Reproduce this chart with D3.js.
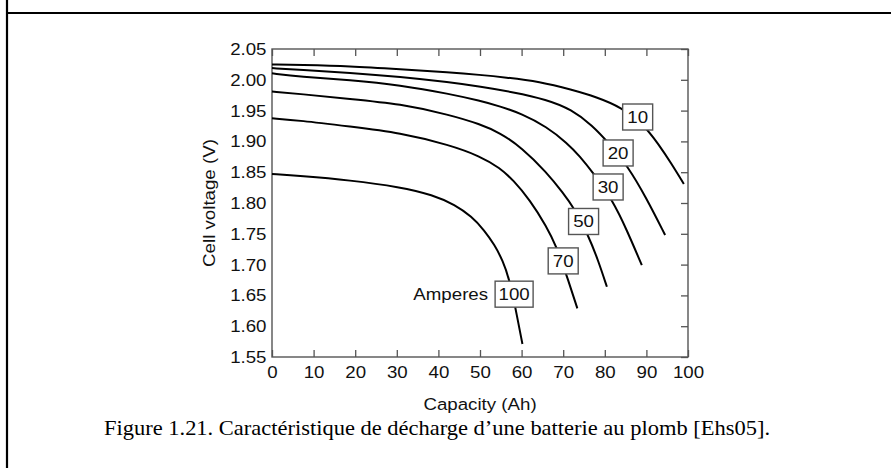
<!DOCTYPE html>
<html>
<head>
<meta charset="utf-8">
<script src="https://cdn.jsdelivr.net/npm/d3@7"></script>
<style>
    body { margin: 0; background: #fff; }
    svg { display: block; }
    .sans { font-family: "Liberation Sans", Arial, sans-serif; }
</style>
</head>
<body>
<div id="chart"></div>
<script>
// discharge curves: capacity (Ah) -> cell voltage (V)
const amp10 = [[0, 2.025], [6.7, 2.024], [18.75, 2.022], [30.8, 2.017], [42.8, 2.012], [50, 2.008], [56, 2.004], [64.4, 1.997], [72, 1.984], [78, 1.972], [84, 1.955], [89, 1.930], [93, 1.895], [96, 1.864], [99, 1.831]];
const amp20 = [[0, 2.019], [6.7, 2.016], [18.75, 2.0115], [30.8, 2.005], [42.8, 1.996], [50, 1.989], [58, 1.980], [66, 1.968], [72, 1.952], [77, 1.926], [81, 1.897], [85.6, 1.859], [90, 1.808], [94.5, 1.748]];
const amp30 = [[0, 2.0105], [6.7, 2.005], [18.75, 1.9997], [30.8, 1.9915], [42.8, 1.977], [50, 1.966], [54.8, 1.957], [60, 1.945], [66, 1.924], [71, 1.897], [74, 1.876], [77.2, 1.849], [81.9, 1.804], [85.3, 1.756], [88.9, 1.699]];
const amp50 = [[0, 1.981], [6.7, 1.977], [18.75, 1.969], [30.8, 1.961], [42.8, 1.943], [50, 1.928], [54.8, 1.914], [60, 1.890], [66, 1.850], [70, 1.816], [72.6, 1.792], [76, 1.748], [78.4, 1.707], [80.5, 1.664]];
const amp70 = [[0, 1.9375], [6.7, 1.934], [18.75, 1.924], [30.8, 1.914], [42.8, 1.894], [50, 1.876], [54.8, 1.857], [58, 1.837], [62, 1.805], [66, 1.762], [68.4, 1.729], [70.7, 1.685], [73.4, 1.629]];
const amp100 = [[0, 1.847], [6.7, 1.844], [18.75, 1.837], [30.8, 1.826], [38.7, 1.813], [44, 1.797], [48, 1.778], [51, 1.756], [53.5, 1.732], [55.5, 1.706], [57, 1.677], [58.4, 1.634], [60.2, 1.571]];

const seriesNames = ["10", "20", "30", "50", "70", "100"];
const seriesData = [amp10, amp20, amp30, amp50, amp70, amp100];
// where each current label sits (capacity, voltage)
const labelAt = [[87.9, 1.9396], [83.2, 1.8812], [80.8, 1.826], [74.9, 1.770], [70.0, 1.706], [58.2, 1.652]];

const xTicks = [0, 10, 20, 30, 40, 50, 60, 70, 80, 90, 100];
const yTicks = [1.55, 1.60, 1.65, 1.70, 1.75, 1.80, 1.85, 1.90, 1.95, 2.00, 2.05];

const W = 891, H = 468;
const stretch = 1.1; // the scanned lettering is a bit wide

const svg = d3.select("#chart").append("svg")
    .attr("width", W)
    .attr("height", H);

// page frame (table cell borders)
svg.append("line").attr("x1", 7).attr("x2", 7).attr("y1", 0).attr("y2", H)
    .attr("stroke", "#000").attr("stroke-width", 2.2);
svg.append("line").attr("x1", 7).attr("x2", 891).attr("y1", 13).attr("y2", 13)
    .attr("stroke", "#000").attr("stroke-width", 2.2);

const x = d3.scaleLinear().domain([0, 100]).range([272, 688]);
const y = d3.scaleLinear().domain([1.55, 2.05]).range([357, 49]);

const axisColor = "#555";

const styleAxis = (g) => {
    g.select(".domain").remove();
    g.selectAll(".tick line").attr("stroke", axisColor).attr("stroke-width", 1.3);
    g.selectAll("text")
        .attr("class", "sans")
        .attr("fill", "#111")
        .style("font-size", "17px")
        .attr("transform", `scale(${stretch},1)`);
};

// bottom axis: ticks inward, labels below
svg.append("g")
    .attr("transform", `translate(0,${y(1.55)})`)
    .call(d3.axisBottom(x).tickValues(xTicks).tickSizeInner(-7).tickSizeOuter(0).tickPadding(9))
    .call(styleAxis);

// top axis: ticks only
svg.append("g")
    .attr("transform", `translate(0,${y(2.05)})`)
    .call(d3.axisTop(x).tickValues(xTicks).tickSizeInner(-7).tickSizeOuter(0).tickFormat(""))
    .call(styleAxis);

// left axis: labels only
svg.append("g")
    .attr("transform", `translate(${x(0)},0)`)
    .call(d3.axisLeft(y).tickValues(yTicks).tickSize(0).tickPadding(5).tickFormat(d3.format(".2f")))
    .call(styleAxis);

// right axis: ticks inward
svg.append("g")
    .attr("transform", `translate(${x(100)},0)`)
    .call(d3.axisRight(y).tickValues(yTicks).tickSizeInner(-7).tickSizeOuter(0).tickFormat(""))
    .call(styleAxis);

// plot frame
svg.append("rect")
    .attr("x", x(0)).attr("y", y(2.05))
    .attr("width", x(100) - x(0)).attr("height", y(1.55) - y(2.05))
    .attr("fill", "none").attr("stroke", axisColor).attr("stroke-width", 1.4);

// curves
const line = d3.line()
    .x((d) => x(d[0]))
    .y((d) => y(d[1]))
    .curve(d3.curveBasis);

seriesData.forEach((data) => {
    svg.append("path")
        .datum(data)
        .attr("fill", "none")
        .attr("stroke", "#000")
        .attr("stroke-width", 2)
        .attr("d", line);
});

// boxed current labels on top of the curves
seriesNames.forEach((name, i) => {
    const [lx, ly] = labelAt[i];
    const cx = x(lx), cy = y(ly);
    const bw = name.length > 2 ? 38 : 30, bh = 26;
    svg.append("rect")
        .attr("x", cx - bw / 2).attr("y", cy - bh / 2)
        .attr("width", bw).attr("height", bh)
        .attr("fill", "#fff").attr("stroke", axisColor).attr("stroke-width", 1.4);
    svg.append("text")
        .attr("class", "sans")
        .attr("transform", `translate(${cx},${cy + 6}) scale(${stretch},1)`)
        .attr("text-anchor", "middle")
        .style("font-size", "17px")
        .attr("fill", "#111")
        .text(name);
});

svg.append("text")
    .attr("class", "sans")
    .attr("transform", `translate(${x(58.2) - 26},${y(1.652) + 6}) scale(${stretch},1)`)
    .attr("text-anchor", "end")
    .style("font-size", "17px")
    .attr("fill", "#111")
    .text("Amperes");

// axis titles
svg.append("text")
    .attr("class", "sans")
    .attr("transform", `translate(${(x(0) + x(100)) / 2},410) scale(${stretch},1)`)
    .attr("text-anchor", "middle")
    .style("font-size", "17px")
    .attr("fill", "#111")
    .text("Capacity (Ah)");

svg.append("text")
    .attr("class", "sans")
    .attr("transform", `translate(215,${(y(1.55) + y(2.05)) / 2}) rotate(-90) scale(${stretch},1)`)
    .attr("text-anchor", "middle")
    .style("font-size", "17px")
    .attr("fill", "#111")
    .text("Cell voltage (V)");

// caption
svg.append("text")
    .attr("x", 104)
    .attr("y", 435)
    .attr("textLength", 666)
    .attr("lengthAdjust", "spacingAndGlyphs")
    .style("font-family", "'Liberation Serif', 'Times New Roman', serif")
    .style("font-size", "21px")
    .attr("fill", "#000")
    .text("Figure 1.21. Caractéristique de décharge d\u2019une batterie au plomb [Ehs05].");
</script>
</body>
</html>
